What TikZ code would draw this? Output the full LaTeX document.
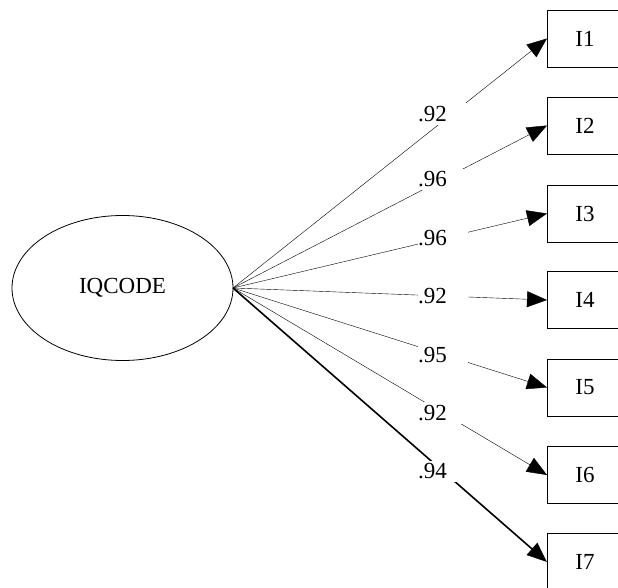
\documentclass[tikz,border=0pt]{standalone}
\usepackage{fontspec}
\setmainfont{Liberation Serif}
\usetikzlibrary{arrows.meta,shapes.geometric}
\begin{document}
\begin{tikzpicture}[x=1pt,y=-1pt,
  every node/.style={font=\fontsize{23}{27}\selectfont},
  latent/.style={draw, ellipse, minimum width=221pt, minimum height=145pt, line width=0.8pt, inner sep=0pt, outer sep=0pt},
  item/.style={draw, rectangle, minimum width=76pt, minimum height=57pt, line width=0.8pt, inner sep=0pt, outer sep=0pt},
  loading/.style={line width=0.4pt, -{Triangle[length=20pt,width=16pt]}},
  heavy/.style={line width=1.6pt, -{Triangle[length=20pt,width=16pt]}},
  lbl/.style={fill=white, text width=50pt, align=left, inner xsep=0pt, inner ysep=3pt, pos=0.669}
]
\useasboundingbox (0,0) rectangle (618,588);
\node[latent] (iq) at (122.5,288) {IQCODE};
\node[item] (i1) at (585,38.5) {I1};
\node[item] (i2) at (585,125.5) {I2};
\node[item] (i3) at (585,213.5) {I3};
\node[item] (i4) at (585,300) {I4};
\node[item] (i5) at (585,387.5) {I5};
\node[item] (i6) at (585,475) {I6};
\node[item] (i7) at (585,562) {I7};
\draw[loading] (iq.east) -- node[lbl, yshift=7pt] {.92} (i1.west);
\draw[loading] (iq.east) -- node[lbl] {.96} (i2.west);
\draw[loading] (iq.east) -- node[lbl] {.96} (i3.west);
\draw[loading] (iq.east) -- node[lbl] {.92} (i4.west);
\draw[loading] (iq.east) -- node[lbl] {.95} (i5.west);
\draw[loading] (iq.east) -- node[lbl] {.92} (i6.west);
\draw[heavy] (iq.east) -- node[lbl] {.94} (i7.west);
\end{tikzpicture}
\end{document}
